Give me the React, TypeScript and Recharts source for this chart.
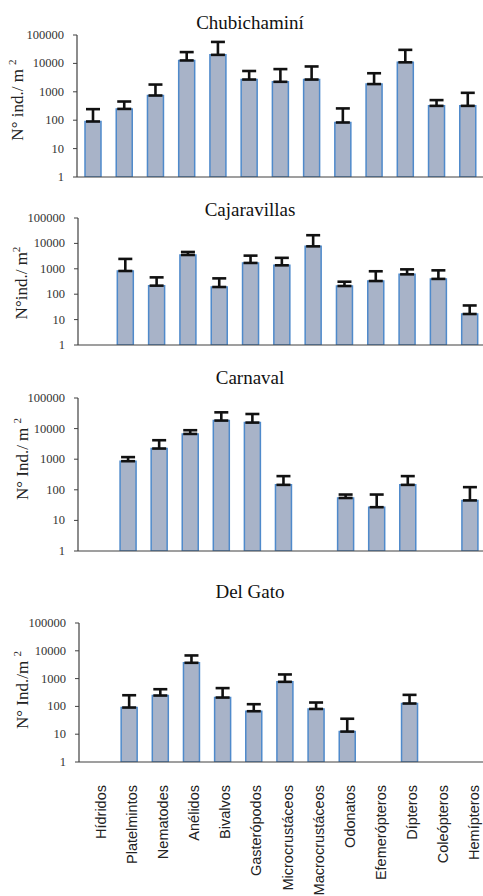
import { BarChart, Bar, XAxis, YAxis, ErrorBar } from 'recharts'

const categories = [
  'Hídridos',
  'Platelmintos',
  'Nematodes',
  'Anélidos',
  'Bivalvos',
  'Gasterópodos',
  'Microcrustáceos',
  'Macrocrustáceos',
  'Odonatos',
  'Efemerópteros',
  'Dípteros',
  'Coleópteros',
  'Hemípteros',
]

const yTicks = [1, 10, 100, 1000, 10000, 100000]

// mean density and the upper error (SD) per category, null = not found
const chubiValues = [90, 250, 740, 12700, 20000, 2700, 2250, 2700, 83, 1870, 10900, 320, 320]
const chubiErrors = [155, 205, 1060, 12300, 37000, 2700, 4050, 5100, 177, 2630, 19100, 190, 600]

const cajaValues = [null, 820, 217, 3500, 192, 1700, 1370, 7650, 210, 330, 605, 400, 16.6]
const cajaErrors = [null, 1630, 243, 1100, 228, 1600, 1330, 13350, 100, 470, 345, 470, 19.4]

const carnavalValues = [null, 860, 2230, 6700, 18300, 15700, 145, null, 54, 27, 145, null, 45]
const carnavalErrors = [null, 310, 1940, 2150, 15700, 14300, 135, null, 16, 43, 135, null, 77]

const gatoValues = [null, 91, 246, 3700, 208, 67, 765, 81, 12.4, null, 127, null, null]
const gatoErrors = [null, 161, 169, 3100, 247, 53, 645, 57, 23.6, null, 133, null, null]

const BAR_FILL = '#a8b3c8'
const BAR_STROKE = '#4f8acb'
const AXIS = '#404040'
const SERIF = '"Liberation Serif", "Times New Roman", serif'
const SANS = '"Liberation Sans", Arial, sans-serif'

function buildData(values: (number | null)[], errors: (number | null)[]) {
  return categories.map((name, i) => ({
    name,
    value: values[i],
    err: values[i] == null || errors[i] == null ? undefined : [0, errors[i]],
  }))
}

function CategoryTick({ x, y, payload }: any) {
  return (
    <text
      transform={`translate(${x + 8},${y + 15}) rotate(-90)`}
      textAnchor="end"
      style={{ fontFamily: SANS, fontSize: 14.5 }}
      fill="#222"
    >
      {payload.value}
    </text>
  )
}

function ValueTick({ x, y, payload }: any) {
  return (
    <text
      x={x}
      y={y}
      dy={4}
      textAnchor="end"
      style={{ fontFamily: SERIF, fontSize: 12.5 }}
      fill="#333"
    >
      {payload.value}
    </text>
  )
}

interface PanelProps {
  title: string
  titleTop: number
  top: number
  width: number
  height: number
  marginTop: number
  axisWidth: number
  xAxisHeight: number
  padLeft: number
  labelText: string
  labelX: number
  labelY: number
  values: (number | null)[]
  errors: (number | null)[]
  showCategories?: boolean
}

function Panel(p: PanelProps) {
  const data = buildData(p.values, p.errors)
  return (
    <>
      <div
        style={{
          position: 'absolute',
          left: 0,
          top: p.titleTop,
          width: 500,
          textAlign: 'center',
          fontFamily: SERIF,
          fontSize: 19,
          lineHeight: '19px',
          color: '#111',
        }}
      >
        {p.title}
      </div>
      <div style={{ position: 'absolute', left: 0, top: p.top }}>
        <BarChart
          width={p.width}
          height={p.height}
          data={data}
          margin={{ top: p.marginTop, right: 0, left: 0, bottom: 0 }}
          barCategoryGap={0}
        >
          <XAxis
            dataKey="name"
            interval={0}
            height={p.xAxisHeight}
            padding={{ left: p.padLeft, right: 0 }}
            axisLine={{ stroke: AXIS, strokeWidth: 1.2 }}
            tickLine={false}
            tick={p.showCategories ? <CategoryTick /> : false}
          />
          <YAxis
            scale="log"
            domain={[1, 100000]}
            ticks={yTicks}
            allowDataOverflow
            width={p.axisWidth}
            interval={0}
            axisLine={{ stroke: AXIS, strokeWidth: 1.2 }}
            tickLine={{ stroke: AXIS }}
            tickSize={4}
            tickMargin={9}
            tick={<ValueTick />}
            label={{
              content: () => (
                <text
                  transform={`translate(${p.labelX},${p.labelY}) rotate(-90)`}
                  textAnchor="middle"
                  style={{ fontFamily: SERIF, fontSize: 17 }}
                  fill="#222"
                >
                  {p.labelText}
                  <tspan dy={-7} style={{ fontSize: 11 }}>
                    2
                  </tspan>
                </text>
              ),
            }}
          />
          <Bar
            dataKey="value"
            barSize={16}
            fill={BAR_FILL}
            stroke={BAR_STROKE}
            strokeWidth={1.5}
            isAnimationActive={false}
          >
            <ErrorBar dataKey="err" direction="y" width={7} stroke="#111" strokeWidth={2.6} />
          </Bar>
        </BarChart>
      </div>
    </>
  )
}

export default function App() {
  return (
    <div
      style={{
        position: 'absolute',
        left: 0,
        top: 0,
        width: 483,
        height: 896,
        overflow: 'hidden',
        background: '#fff',
      }}
    >
      <Panel
        title="Chubichaminí"
        titleTop={13}
        top={0}
        width={483}
        height={189}
        marginTop={35}
        axisWidth={77}
        xAxisHeight={12}
        padLeft={0}
        labelText="N° ind./ m "
        labelX={23}
        labelY={100}
        values={chubiValues}
        errors={chubiErrors}
      />
      <Panel
        title="Cajaravillas"
        titleTop={200}
        top={190}
        width={485}
        height={167}
        marginTop={28}
        axisWidth={78}
        xAxisHeight={12}
        padLeft={0}
        labelText="N°ind./ m"
        labelX={27}
        labelY={93}
        values={cajaValues}
        errors={cajaErrors}
      />
      <Panel
        title="Carnaval"
        titleTop={368}
        top={360}
        width={485}
        height={203}
        marginTop={38}
        axisWidth={78}
        xAxisHeight={12}
        padLeft={3}
        labelText="N° Ind./ m "
        labelX={28}
        labelY={99}
        values={carnavalValues}
        errors={carnavalErrors}
      />
      <Panel
        title="Del Gato"
        titleTop={582}
        top={570}
        width={487}
        height={326}
        marginTop={53}
        axisWidth={79}
        xAxisHeight={134}
        padLeft={3}
        labelText="N° Ind./m "
        labelX={28}
        labelY={120}
        values={gatoValues}
        errors={gatoErrors}
        showCategories
      />
    </div>
  )
}
